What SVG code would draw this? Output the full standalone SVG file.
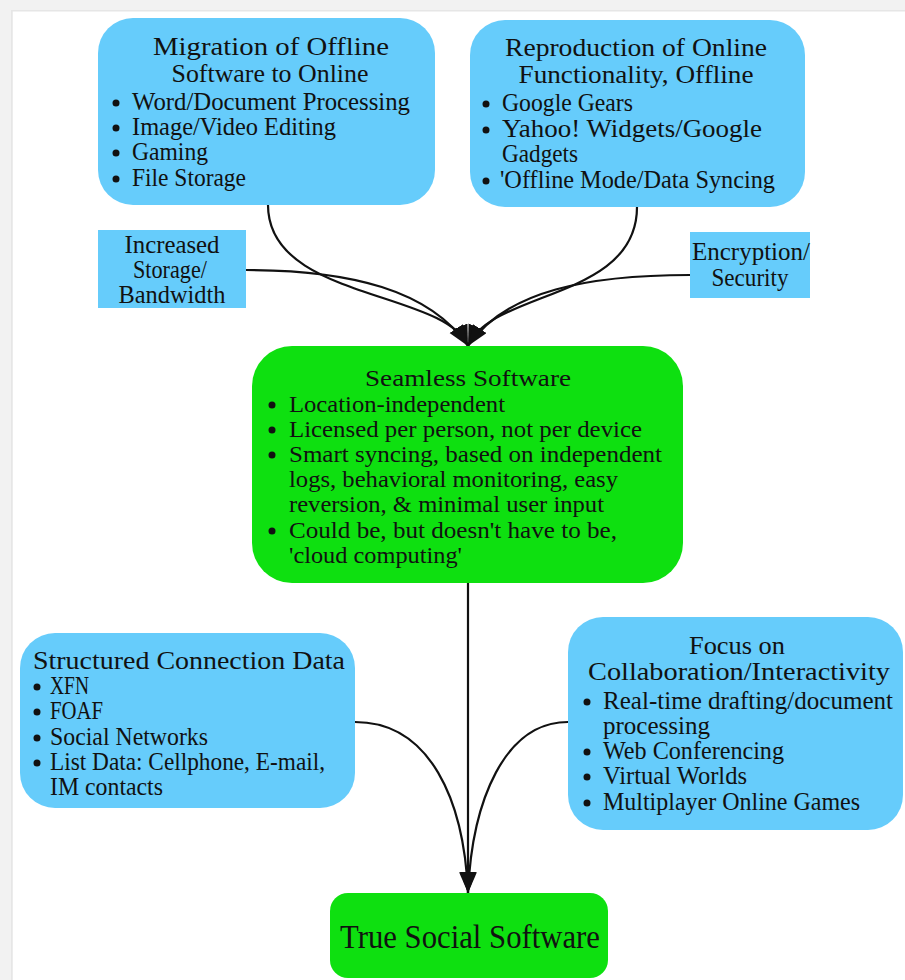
<svg xmlns="http://www.w3.org/2000/svg" width="905" height="980" viewBox="0 0 905 980">
  <style>
    .blue { fill: #66ccfb; }
    .green { fill: #0ee010; }
    text { font-family: "Liberation Serif", "DejaVu Serif", serif; font-size: 25px; fill: #111; }
    .wide text { font-size: 23px; }
    .c { text-anchor: middle; }
    .big { font-size: 34px; }
    .dot { fill: #111; }
    .edge { fill: none; stroke: #111; stroke-width: 2.2; }
  </style>
  <defs>
    <marker id="head" markerUnits="userSpaceOnUse" markerWidth="22" markerHeight="18" refX="21" refY="8" orient="auto">
      <path d="M0,0 L21,8 L0,16 z" fill="#111"/>
    </marker>
  </defs>

  <!-- page frame -->
  <rect x="0" y="0" width="905" height="980" fill="#ffffff"/>
  <rect x="0" y="0" width="905" height="11" fill="#f2f2f2"/>
  <rect x="0" y="0" width="13" height="980" fill="#f2f2f2"/>
  <rect x="12" y="10" width="893" height="1.5" fill="#e6e6e6"/>
  <rect x="11" y="10" width="1.5" height="970" fill="#e6e6e6"/>

  <!-- connectors -->
  <g id="connectors">
    <path class="edge" marker-end="url(#head)" d="M268,205 C268,300 445,290 468,346"/>
    <path class="edge" marker-end="url(#head)" d="M246,270 C350,270 430,290 468,346"/>
    <path class="edge" marker-end="url(#head)" d="M637,207 C637,300 491,290 468,346"/>
    <path class="edge" marker-end="url(#head)" d="M690,275 C590,275 506,290 468,346"/>
    <path class="edge" marker-end="url(#head)" d="M468,583 L468,893"/>
    <path class="edge" marker-end="url(#head)" d="M355,722 C430,722 464,800 468,893"/>
    <path class="edge" marker-end="url(#head)" d="M568,722 C505,722 472,800 468,893"/>
  </g>

  <g id="migration">
    <rect class="blue" x="98" y="18" width="337" height="187" rx="35"/>
    <text x="271" y="55" class="c" textLength="236" lengthAdjust="spacingAndGlyphs">Migration  of Offline</text>
    <text x="270" y="82" class="c" textLength="197" lengthAdjust="spacingAndGlyphs">Software to Online</text>
    <circle class="dot" cx="116" cy="103" r="3.5"/>
    <text x="132" y="110" textLength="278" lengthAdjust="spacingAndGlyphs">Word/Document Processing</text>
    <circle class="dot" cx="116" cy="128" r="3.5"/>
    <text x="132" y="135" textLength="204" lengthAdjust="spacingAndGlyphs">Image/Video Editing</text>
    <circle class="dot" cx="116" cy="153" r="3.5"/>
    <text x="132" y="160" textLength="76" lengthAdjust="spacingAndGlyphs">Gaming</text>
    <circle class="dot" cx="116" cy="179" r="3.5"/>
    <text x="132" y="186" textLength="114" lengthAdjust="spacingAndGlyphs">File Storage</text>
  </g>

  <g id="reproduction">
    <rect class="blue" x="470" y="20" width="335" height="187" rx="35"/>
    <text x="636" y="56" class="c" textLength="262" lengthAdjust="spacingAndGlyphs">Reproduction of Online</text>
    <text x="636" y="83" class="c" textLength="235" lengthAdjust="spacingAndGlyphs">Functionality, Offline</text>
    <circle class="dot" cx="486" cy="104" r="3.5"/>
    <text x="502" y="111" textLength="131" lengthAdjust="spacingAndGlyphs">Google Gears</text>
    <circle class="dot" cx="486" cy="130" r="3.5"/>
    <text x="502" y="137" textLength="260" lengthAdjust="spacingAndGlyphs">Yahoo! Widgets/Google</text>
    <text x="502" y="162" textLength="76" lengthAdjust="spacingAndGlyphs">Gadgets</text>
    <circle class="dot" cx="486" cy="181" r="3.5"/>
    <text x="500" y="188" textLength="275" lengthAdjust="spacingAndGlyphs">'Offline Mode/Data Syncing</text>
  </g>

  <g id="storage">
    <rect class="blue" x="98" y="230" width="148" height="78"/>
    <text x="172" y="253" class="c" textLength="95" lengthAdjust="spacingAndGlyphs">Increased</text>
    <text x="170" y="278" class="c" textLength="74" lengthAdjust="spacingAndGlyphs">Storage/</text>
    <text x="172" y="303" class="c" textLength="107" lengthAdjust="spacingAndGlyphs">Bandwidth</text>
  </g>

  <g id="encryption">
    <rect class="blue" x="690" y="232" width="120" height="66"/>
    <text x="751" y="260" class="c" textLength="118" lengthAdjust="spacingAndGlyphs">Encryption/</text>
    <text x="750" y="286" class="c" textLength="77" lengthAdjust="spacingAndGlyphs">Security</text>
  </g>

  <g id="seamless" class="wide">
    <rect class="green" x="252" y="346" width="431" height="237" rx="40"/>
    <text x="468" y="386" class="c" textLength="206" lengthAdjust="spacingAndGlyphs">Seamless Software</text>
    <circle class="dot" cx="272" cy="405" r="3.5"/>
    <text x="289" y="412" textLength="216" lengthAdjust="spacingAndGlyphs">Location-independent</text>
    <circle class="dot" cx="272" cy="430" r="3.5"/>
    <text x="289" y="437" textLength="353" lengthAdjust="spacingAndGlyphs">Licensed per person, not per device</text>
    <circle class="dot" cx="272" cy="455" r="3.5"/>
    <text x="289" y="462" textLength="373" lengthAdjust="spacingAndGlyphs">Smart syncing, based on independent</text>
    <text x="289" y="487" textLength="329" lengthAdjust="spacingAndGlyphs">logs, behavioral monitoring, easy</text>
    <text x="289" y="512" textLength="315" lengthAdjust="spacingAndGlyphs">reversion, &amp; minimal user input</text>
    <circle class="dot" cx="272" cy="531" r="3.5"/>
    <text x="289" y="538" textLength="328" lengthAdjust="spacingAndGlyphs">Could be, but doesn't have to be,</text>
    <text x="289" y="563" textLength="173" lengthAdjust="spacingAndGlyphs">'cloud computing'</text>
  </g>

  <g id="structured">
    <rect class="blue" x="20" y="633" width="335" height="175" rx="35"/>
    <text x="33" y="669" textLength="312" lengthAdjust="spacingAndGlyphs">Structured Connection Data</text>
    <circle class="dot" cx="37" cy="687" r="3.5"/>
    <text x="50" y="694" textLength="39" lengthAdjust="spacingAndGlyphs">XFN</text>
    <circle class="dot" cx="37" cy="712" r="3.5"/>
    <text x="50" y="719" textLength="53" lengthAdjust="spacingAndGlyphs">FOAF</text>
    <circle class="dot" cx="37" cy="738" r="3.5"/>
    <text x="50" y="745" textLength="158" lengthAdjust="spacingAndGlyphs">Social Networks</text>
    <circle class="dot" cx="37" cy="763" r="3.5"/>
    <text x="50" y="770" textLength="275" lengthAdjust="spacingAndGlyphs">List Data: Cellphone, E-mail,</text>
    <text x="50" y="795" textLength="113" lengthAdjust="spacingAndGlyphs">IM contacts</text>
  </g>

  <g id="focus">
    <rect class="blue" x="568" y="617" width="335" height="213" rx="35"/>
    <text x="737" y="654" class="c" textLength="96" lengthAdjust="spacingAndGlyphs">Focus on</text>
    <text x="739" y="680" class="c" textLength="302" lengthAdjust="spacingAndGlyphs">Collaboration/Interactivity</text>
    <circle class="dot" cx="587" cy="702" r="3.5"/>
    <text x="603" y="709" textLength="290" lengthAdjust="spacingAndGlyphs">Real-time drafting/document</text>
    <text x="603" y="734" textLength="107" lengthAdjust="spacingAndGlyphs">processing</text>
    <circle class="dot" cx="587" cy="752" r="3.5"/>
    <text x="603" y="759" textLength="181" lengthAdjust="spacingAndGlyphs">Web Conferencing</text>
    <circle class="dot" cx="587" cy="777" r="3.5"/>
    <text x="603" y="784" textLength="144" lengthAdjust="spacingAndGlyphs">Virtual Worlds</text>
    <circle class="dot" cx="587" cy="803" r="3.5"/>
    <text x="603" y="810" textLength="257" lengthAdjust="spacingAndGlyphs">Multiplayer Online Games</text>
  </g>

  <g id="true-social">
    <rect class="green" x="330" y="893" width="278" height="85" rx="18"/>
    <text x="470" y="948" class="c big" textLength="260" lengthAdjust="spacingAndGlyphs">True Social Software</text>
  </g>
</svg>
